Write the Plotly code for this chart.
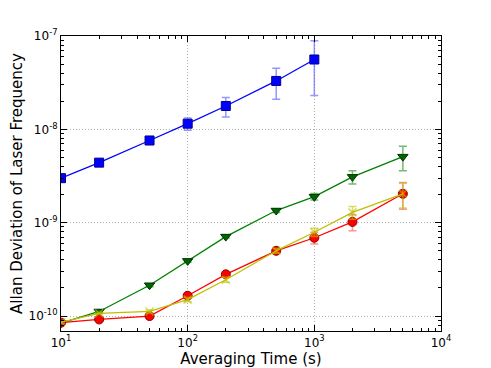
import plotly.graph_objects as go

# averaging times (s)
tau_blue = [10, 20, 50, 100, 200, 500, 1000]
tau = [10, 20, 50, 100, 200, 500, 1000, 2000, 5000]

# allan deviations
adev_blue = [3.0e-9, 4.4e-9, 7.6e-9, 1.15e-8, 1.78e-8, 3.3e-8, 5.6e-8]
err_blue = [0.02e-9, 0.04e-9, 0.07e-8, 0.17e-8, 0.42e-8, 1.2e-8, 3.3e-8]

adev_green = [8.4e-11, 1.12e-10, 2.14e-10, 3.9e-10, 7.1e-10, 1.35e-9, 1.9e-9, 3.1e-9, 5.1e-9]
err_green = [0.2e-11, 0.4e-11, 0.8e-11, 1.2e-11, 2.5e-11, 0.6e-10, 0.15e-9, 0.5e-9, 1.5e-9]

adev_red = [8.5e-11, 9.2e-11, 1.0e-10, 1.65e-10, 2.8e-10, 5.0e-10, 6.9e-10, 1.02e-9, 2.04e-9]
err_red = [0.2e-11, 0.3e-11, 0.4e-11, 0.8e-11, 1.5e-11, 0.3e-10, 0.1e-9, 0.2e-9, 0.65e-9]

adev_yellow = [8.6e-11, 1.07e-10, 1.12e-10, 1.5e-10, 2.45e-10, 5.0e-10, 7.9e-10, 1.29e-9, 2.04e-9]
err_yellow = [0.2e-11, 0.3e-11, 0.4e-11, 0.8e-11, 1.5e-11, 0.3e-10, 0.8e-10, 0.2e-9, 0.6e-9]

x_ticks = [10, 100, 1000, 10000]
x_labels = ["10<sup>1</sup>", "10<sup>2</sup>", "10<sup>3</sup>", "10<sup>4</sup>"]
y_ticks = [1e-10, 1e-9, 1e-8, 1e-7]
y_labels = ["10<sup>-10</sup>", "10<sup>-9</sup>", "10<sup>-8</sup>", "10<sup>-7</sup>"]

fig = go.Figure()


def add_series(x, y, err, color, marker_color, edge, symbol, size, errcolor, edge_w=1):
    fig.add_trace(go.Scatter(
        x=x, y=y, mode="lines+markers",
        line=dict(color=color, width=1.3),
        marker=dict(symbol=symbol, size=size, color=marker_color,
                    line=dict(color=edge, width=edge_w)),
        error_y=dict(type="data", array=err, color=errcolor,
                     thickness=1.5, width=4),
        showlegend=False,
    ))


add_series(tau_blue, adev_blue, err_blue, "#0000ff", "#0000ff", "#00008b",
           "square", 9, "rgba(80,80,255,0.6)")
add_series(tau, adev_green, err_green, "#008000", "#006400", "#003300",
           "triangle-down", 9, "rgba(0,128,0,0.55)")
add_series(tau, adev_red, err_red, "#ff0000", "#ff0000", "#8b0000",
           "circle", 9, "rgba(255,60,60,0.55)")
add_series(tau, adev_yellow, err_yellow, "#bfbf00", "rgba(191,191,0,0.6)", "rgba(191,191,0,0.6)",
           "x-thin", 8, "rgba(191,191,0,0.6)", edge_w=1.5)

axis_common = dict(
    type="log", showline=True, linecolor="black", linewidth=1.2, mirror="ticks",
    ticks="inside", ticklen=6, tickcolor="black", automargin=False,
    showgrid=True, gridcolor="#b0b0b0", griddash="1px,2px", gridwidth=1,
    zeroline=False, tickfont=dict(family="DejaVu Sans", size=12, color="black"),
    minor=dict(ticks="inside", ticklen=3, tickcolor="black", showgrid=False, dtick="D1"),
)

# page body has an 8px margin, so the figure is sized to fit inside it
fig.update_layout(
    width=483, height=360,
    margin=dict(l=53, r=50, t=28, b=37),
    paper_bgcolor="white", plot_bgcolor="white",
    font=dict(family="DejaVu Sans", color="black"),
    xaxis=dict(axis_common, range=[1, 4], tickvals=x_ticks, ticktext=x_labels,
               title=dict(text="Averaging Time (s)", font=dict(size=15), standoff=1)),
    yaxis=dict(axis_common, range=[-10.16, -7], tickvals=y_ticks, ticktext=y_labels,
               title=dict(text="Allan Deviation of Laser Frequency", font=dict(size=15), standoff=8)),
)

fig.write_html("out.html")
